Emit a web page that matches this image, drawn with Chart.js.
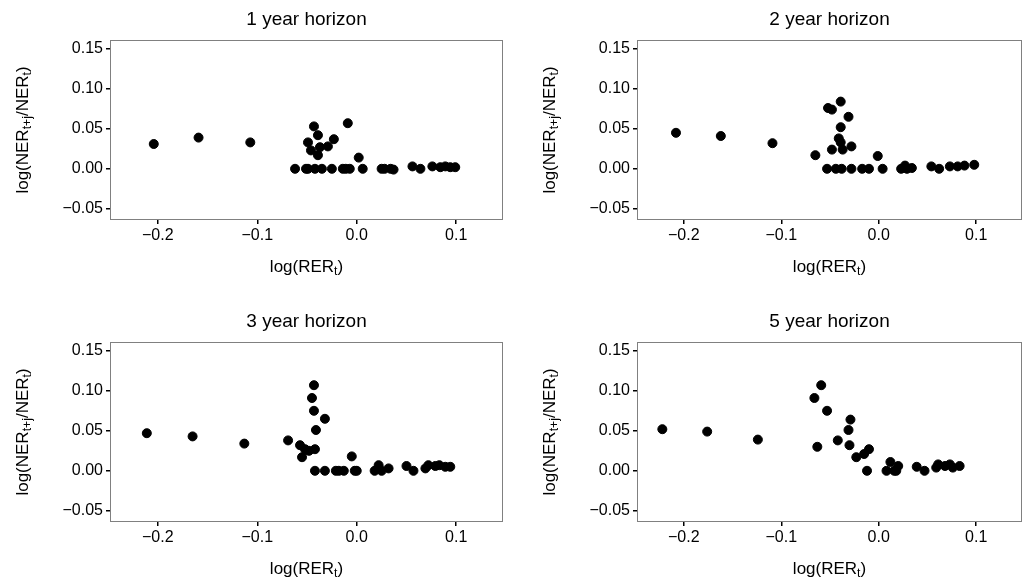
<!DOCTYPE html>
<html>
<head>
<meta charset="utf-8">
<script src="https://cdn.jsdelivr.net/npm/chart.js@4.4.1/dist/chart.umd.min.js"></script>
<style>
  body { margin: 0; background: #fff; }
  #wrap { position: relative; width: 1028px; height: 586px; }
  .panel { position: absolute; }
</style>
</head>
<body>
<div id="wrap">
  <div class="panel" style="left:0;top:0;width:514px;height:284px"><canvas id="c1"></canvas></div>
  <div class="panel" style="left:514px;top:0;width:514px;height:284px"><canvas id="c2"></canvas></div>
  <div class="panel" style="left:0;top:302px;width:514px;height:284px"><canvas id="c3"></canvas></div>
  <div class="panel" style="left:514px;top:302px;width:514px;height:284px"><canvas id="c4"></canvas></div>
</div>
<script>
//panel titles
var titles = ["1 year horizon", "2 year horizon", "3 year horizon", "5 year horizon"];

//tick labels
var xTicks = [-0.2, -0.1, 0.0, 0.1];
var yTicks = [-0.05, 0.00, 0.05, 0.10, 0.15];

//log(RER_t) values per horizon
var x1 = [-0.204,-0.159,-0.107,-0.043,-0.039,-0.049,-0.046,-0.039,-0.037,-0.029,-0.023,-0.009,0.002,
          -0.062,-0.051,-0.049,-0.042,-0.035,-0.025,-0.014,-0.011,-0.007,0.006,0.025,0.028,0.034,0.037,
          0.056,0.064,0.076,0.084,0.089,0.094,0.099];
var y1 = [0.031,0.039,0.033,0.053,0.042,0.033,0.023,0.017,0.027,0.028,0.037,0.057,0.014,
          0,0,0,0,0,0,0,0,0,0,0,0,0,-0.001,
          0.003,0,0.003,0.002,0.003,0.002,0.002];

var x2 = [-0.208,-0.162,-0.109,-0.065,-0.052,-0.048,-0.039,-0.031,-0.039,-0.041,-0.039,-0.037,-0.048,-0.028,-0.001,
          -0.053,-0.044,-0.038,-0.028,-0.017,-0.010,0.004,0.023,0.027,0.029,0.034,
          0.054,0.062,0.073,0.081,0.088,0.098];
var y2 = [0.045,0.041,0.032,0.017,0.076,0.074,0.084,0.065,0.052,0.038,0.033,0.024,0.024,0.028,0.016,
          0,0,0,0,0,0,0,0,0.004,0,0.001,
          0.003,0,0.003,0.003,0.004,0.005];

var x3 = [-0.211,-0.165,-0.113,-0.069,-0.057,-0.055,-0.052,-0.048,-0.042,-0.043,-0.045,-0.043,-0.032,-0.041,-0.005,
          -0.042,-0.032,-0.021,-0.018,-0.013,-0.002,0.000,0.018,0.022,0.025,0.032,
          0.050,0.057,0.069,0.072,0.079,0.083,0.089,0.094];
var y3 = [0.047,0.043,0.034,0.038,0.032,0.017,0.027,0.025,0.027,0.107,0.091,0.075,0.065,0.051,0.018,
          0,0,0,0,0,0,0,0,0.007,0,0.003,
          0.006,0,0.003,0.007,0.006,0.007,0.005,0.005];

var x4 = [-0.222,-0.176,-0.124,-0.066,-0.059,-0.053,-0.063,-0.042,-0.029,-0.031,-0.030,-0.023,-0.015,-0.010,-0.012,
          0.008,0.012,0.016,0.020,0.018,0.039,0.047,0.059,0.061,0.068,0.073,0.076,0.083];
var y4 = [0.052,0.049,0.039,0.091,0.107,0.075,0.030,0.038,0.064,0.051,0.032,0.017,0.021,0.027,0,
          0,0.011,0,0.006,0,0.005,0,0.004,0.008,0.006,0.008,0.004,0.006];

var FONT = "'Liberation Sans', Arial, sans-serif";

//draw text made of normal and subscript pieces
function richWidth(ctx, parts, size){
    var w = 0;
    parts.forEach(function(p){
        ctx.font = (p.sub ? size*0.72 : size) + "px " + FONT;
        w += ctx.measureText(p.t).width;
    });
    return w;
}
function drawRich(ctx, parts, size, cx, cy){
    var x = cx - richWidth(ctx, parts, size) / 2;
    ctx.textBaseline = "middle";
    ctx.textAlign = "left";
    ctx.fillStyle = "#000";
    parts.forEach(function(p){
        ctx.font = (p.sub ? size*0.72 : size) + "px " + FONT;
        ctx.fillText(p.t, x, p.sub ? cy + size*0.3 : cy);
        x += ctx.measureText(p.t).width;
    });
}

var xTitle = [{t:"log(RER"},{t:"t",sub:true},{t:")"}];
var yTitle = [{t:"log(NER"},{t:"t+j",sub:true},{t:"/NER"},{t:"t",sub:true},{t:")"}];

var decorPlugin = {
    id: 'decor',
    afterDraw: function(chart){
        var ctx = chart.ctx, a = chart.chartArea;
        ctx.save();
        //panel border
        ctx.strokeStyle = "#808080";
        ctx.lineWidth = 1;
        ctx.strokeRect(a.left + 0.5, a.top + 0.5, a.right - a.left - 1, a.bottom - a.top - 1);
        //panel title
        ctx.fillStyle = "#000";
        ctx.font = "19px " + FONT;
        ctx.textAlign = "center";
        ctx.textBaseline = "middle";
        ctx.fillText(chart.options.panelTitle, (a.left + a.right) / 2, 20);
        //x axis title
        drawRich(ctx, xTitle, 17, (a.left + a.right) / 2, a.bottom + 47);
        //y axis title
        ctx.translate(a.left - 87, (a.top + a.bottom) / 2);
        ctx.rotate(-Math.PI / 2);
        drawRich(ctx, yTitle, 17, 0, 0);
        ctx.restore();
    }
};

function makeChart(id, title, xs, ys, padLeft, padRight){
    var pts = [];
    for( var i = 0; i < xs.length; i++ )
        pts.push( {x: xs[i], y: ys[i]} );

    return new Chart(document.getElementById(id), {
        type: 'scatter',
        data: { datasets: [{
            data: pts,
            backgroundColor: "#000",
            borderColor: "#000",
            pointRadius: 4.5,
            pointHoverRadius: 4.5
        }]},
        plugins: [decorPlugin],
        options: {
            panelTitle: title,
            responsive: true,
            maintainAspectRatio: false,
            animation: false,
            layout: { padding: { left: padLeft, right: padRight, top: 40, bottom: 42 } },
            plugins: { legend: { display: false }, tooltip: { enabled: false } },
            scales: {
                x: {
                    type: 'linear', min: -0.248, max: 0.147,
                    afterBuildTicks: function(s){ s.ticks = xTicks.map(function(v){ return {value: v}; }); },
                    afterFit: function(s){ s.height = 22; },
                    grid: { drawOnChartArea: false, tickLength: 4, color: "#000", lineWidth: 1.5 },
                    border: { display: false },
                    ticks: { color: "#000", font: { size: 16, family: FONT }, padding: 2,
                             callback: function(v){ return v.toFixed(1).replace("-", "\u2212"); } }
                },
                y: {
                    type: 'linear', min: -0.064, max: 0.161,
                    afterBuildTicks: function(s){ s.ticks = yTicks.map(function(v){ return {value: v}; }); },
                    afterFit: function(s){ s.width = 80; },
                    grid: { drawOnChartArea: false, tickLength: 4, color: "#000", lineWidth: 1.5 },
                    border: { display: false },
                    ticks: { color: "#000", font: { size: 16, family: FONT }, padding: 3,
                             callback: function(v){ return v.toFixed(2).replace("-", "\u2212"); } }
                }
            }
        }
    });
}

makeChart("c1", titles[0], x1, y1, 30, 11);
makeChart("c2", titles[1], x2, y2, 43, 6);
makeChart("c3", titles[2], x3, y3, 30, 11);
makeChart("c4", titles[3], x4, y4, 43, 6);
</script>
</body>
</html>
